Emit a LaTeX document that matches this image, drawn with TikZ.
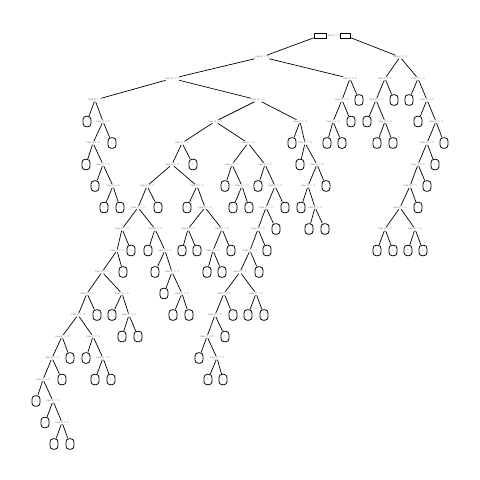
\documentclass[tikz,border=0pt]{standalone}
\usepackage{tikz}

\definecolor{labgray}{RGB}{50,50,50}
\definecolor{labred}{RGB}{215,80,50}
\definecolor{labblue}{RGB}{60,110,200}

\newcommand{\splittxt}{\textcolor{labgray}{var}\,<\,\textcolor{labred}{1.5}}
\newcommand{\leaftxt}{\textcolor{labblue}{1}\\[-0.6pt]\textcolor{labred}{0}}

\tikzset{
	splitlabel/.style={inner sep=0.5pt, font=\fontsize{2.8}{3}\selectfont},
	leafbox/.style={draw, line width=0.8pt, rounded corners=3.2pt, minimum width=8pt,
		minimum height=10.5pt, inner sep=0pt, align=center, font=\fontsize{1.8}{2}\selectfont},
	rootbox/.style={draw, line width=0.7pt, minimum height=5pt, inner sep=0pt},
	branch/.style={line width=0.7pt}
}

\begin{document}
\begin{tikzpicture}[x=1pt,y=-1pt]
	\useasboundingbox (0,0) rectangle (480,480);
	% root
	\node[splitlabel] (root) at (333,35.5) {\splittxt};
	\node[rootbox, minimum width=12pt] (rootl) at (320,35.5) {};
	\node[rootbox, minimum width=10pt] (rootr) at (345,35.5) {};
	% splits: name/x/level
	\foreach \n/\x/\l in {s1/262/1, s2/400/1,
		s3/172/2, s4/350/2, s5/385/2, s6/418/2,
		s7/95/3, s8/258/3, s9/342/3, s10/376/3, s11/427/3,
		s12/103/4, s13/215/4, s14/300/4, s15/333/4, s16/385/4, s17/436/4,
		s18/93/5, s19/182/5, s20/248/5, s21/305/5, s22/427/5,
		s23/103/6, s24/172/6, s25/232/6, s26/265/6, s27/317/6, s28/418/6,
		s29/113/7, s30/147/7, s31/197/7, s32/242/7, s33/275/7, s34/308/7, s35/410/7,
		s36/138/8, s37/205/8, s38/266/8, s39/315/8, s40/400/8,
		s41/122/9, s42/155/9, s43/188/9, s44/222/9, s45/258/9, s46/385/9, s47/415/9,
		s48/117/10, s49/165/10, s50/213/10, s51/250/10,
		s52/102/11, s53/172/11, s54/240/11,
		s55/87/12, s56/122/12, s57/182/12, s58/224/12, s59/256/12,
		s60/78/13, s61/129/13, s62/215/13,
		s63/62/14, s64/93/14, s65/207/14,
		s66/52/15, s67/103/15, s68/217/15,
		s69/43/16, s70/53/17, s71/62/18}
		\node[splitlabel] (\n) at (\x,{35.5+21.5*\l}) {\splittxt};
	% leaves: name/x/level
	\foreach \n/\x/\l in {f1/359/3, f2/394/3, f3/409/3,
		f4/87/4, f5/351/4, f6/367/4, f7/418/4,
		f8/112/5, f9/292/5, f10/327/5, f11/342/5, f12/377/5, f13/393/5, f14/444/5,
		f15/86/6, f16/193/6, f17/300/6, f18/435/6,
		f19/95/7, f20/225/7, f21/258/7, f22/326/7, f23/427/7,
		f24/104/8, f25/120/8, f26/158/8, f27/187/8, f28/233/8, f29/249/8,
		f30/285/8, f31/301/8, f32/418/8,
		f33/276/9, f34/309/9, f35/325/9,
		f36/131/10, f37/148/10, f38/182/10, f39/197/10, f40/231/10, f41/267/10,
		f42/377/10, f43/393/10, f44/408/10, f45/423/10,
		f46/123/11, f47/155/11, f48/207/11, f49/222/11, f50/259/11,
		f51/164/12,
		f52/97/13, f53/112/13, f54/173/13, f55/189/13, f56/233/13, f57/248/13, f58/264/13,
		f59/122/14, f60/138/14, f61/225/14,
		f62/70/15, f63/86/15, f64/199/15,
		f65/62/16, f66/95/16, f67/111/16, f68/208/16, f69/223/16,
		f70/36/17, f71/45/18, f72/54/19, f73/70/19}
		\node[leafbox] (\n) at (\x,{35.5+21.5*\l}) {\leaftxt};
	% branches
	\draw[branch] (rootl) -- (s1);
	\draw[branch] (rootr) -- (s2);
	\foreach \a/\b in {s1/s3, s1/s4, s2/s5, s2/s6, s3/s7, s3/s8, s4/s9, s4/f1,
		s5/s10, s5/f2, s6/f3, s6/s11, s7/f4, s7/s12, s8/s13, s8/s14, s9/s15, s9/f5,
		s10/f6, s10/s16, s11/f7, s11/s17, s12/s18, s12/f8, s13/s19, s13/s20,
		s14/f9, s14/s21, s15/f10, s15/f11, s16/f12, s16/f13, s17/s22, s17/f14,
		s18/f15, s18/s23, s19/s24, s19/f16, s20/s25, s20/s26, s21/f17, s21/s27,
		s22/s28, s22/f18, s23/f19, s23/s29, s24/s30, s24/s31, s25/f20, s25/s32,
		s26/f21, s26/s33, s27/s34, s27/f22, s28/s35, s28/f23, s29/f24, s29/f25,
		s30/s36, s30/f26, s31/f27, s31/s37, s32/f28, s32/f29, s33/s38, s33/f30,
		s34/f31, s34/s39, s35/s40, s35/f32, s36/s41, s36/s42, s37/s43, s37/s44,
		s38/s45, s38/f33, s39/f34, s39/f35, s40/s46, s40/s47, s41/s48, s41/f36,
		s42/f37, s42/s49, s43/f38, s43/f39, s44/s50, s44/f40, s45/s51, s45/f41,
		s46/f42, s46/f43, s47/f44, s47/f45, s48/s52, s48/f46, s49/f47, s49/s53,
		s50/f48, s50/f49, s51/s54, s51/f50, s52/s55, s52/s56, s53/f51, s53/s57,
		s54/s58, s54/s59, s55/s60, s55/f52, s56/f53, s56/s61, s57/f54, s57/f55,
		s58/s62, s58/f56, s59/f57, s59/f58, s60/s63, s60/s64, s61/f59, s61/f60,
		s62/s65, s62/f61, s63/s66, s63/f62, s64/f63, s64/s67, s65/f64, s65/s68,
		s66/s69, s66/f65, s67/f66, s67/f67, s68/f68, s68/f69, s69/f70, s69/s70,
		s70/f71, s70/s71, s71/f72, s71/f73}
		\draw[branch] (\a) -- (\b);
\end{tikzpicture}
\end{document}
